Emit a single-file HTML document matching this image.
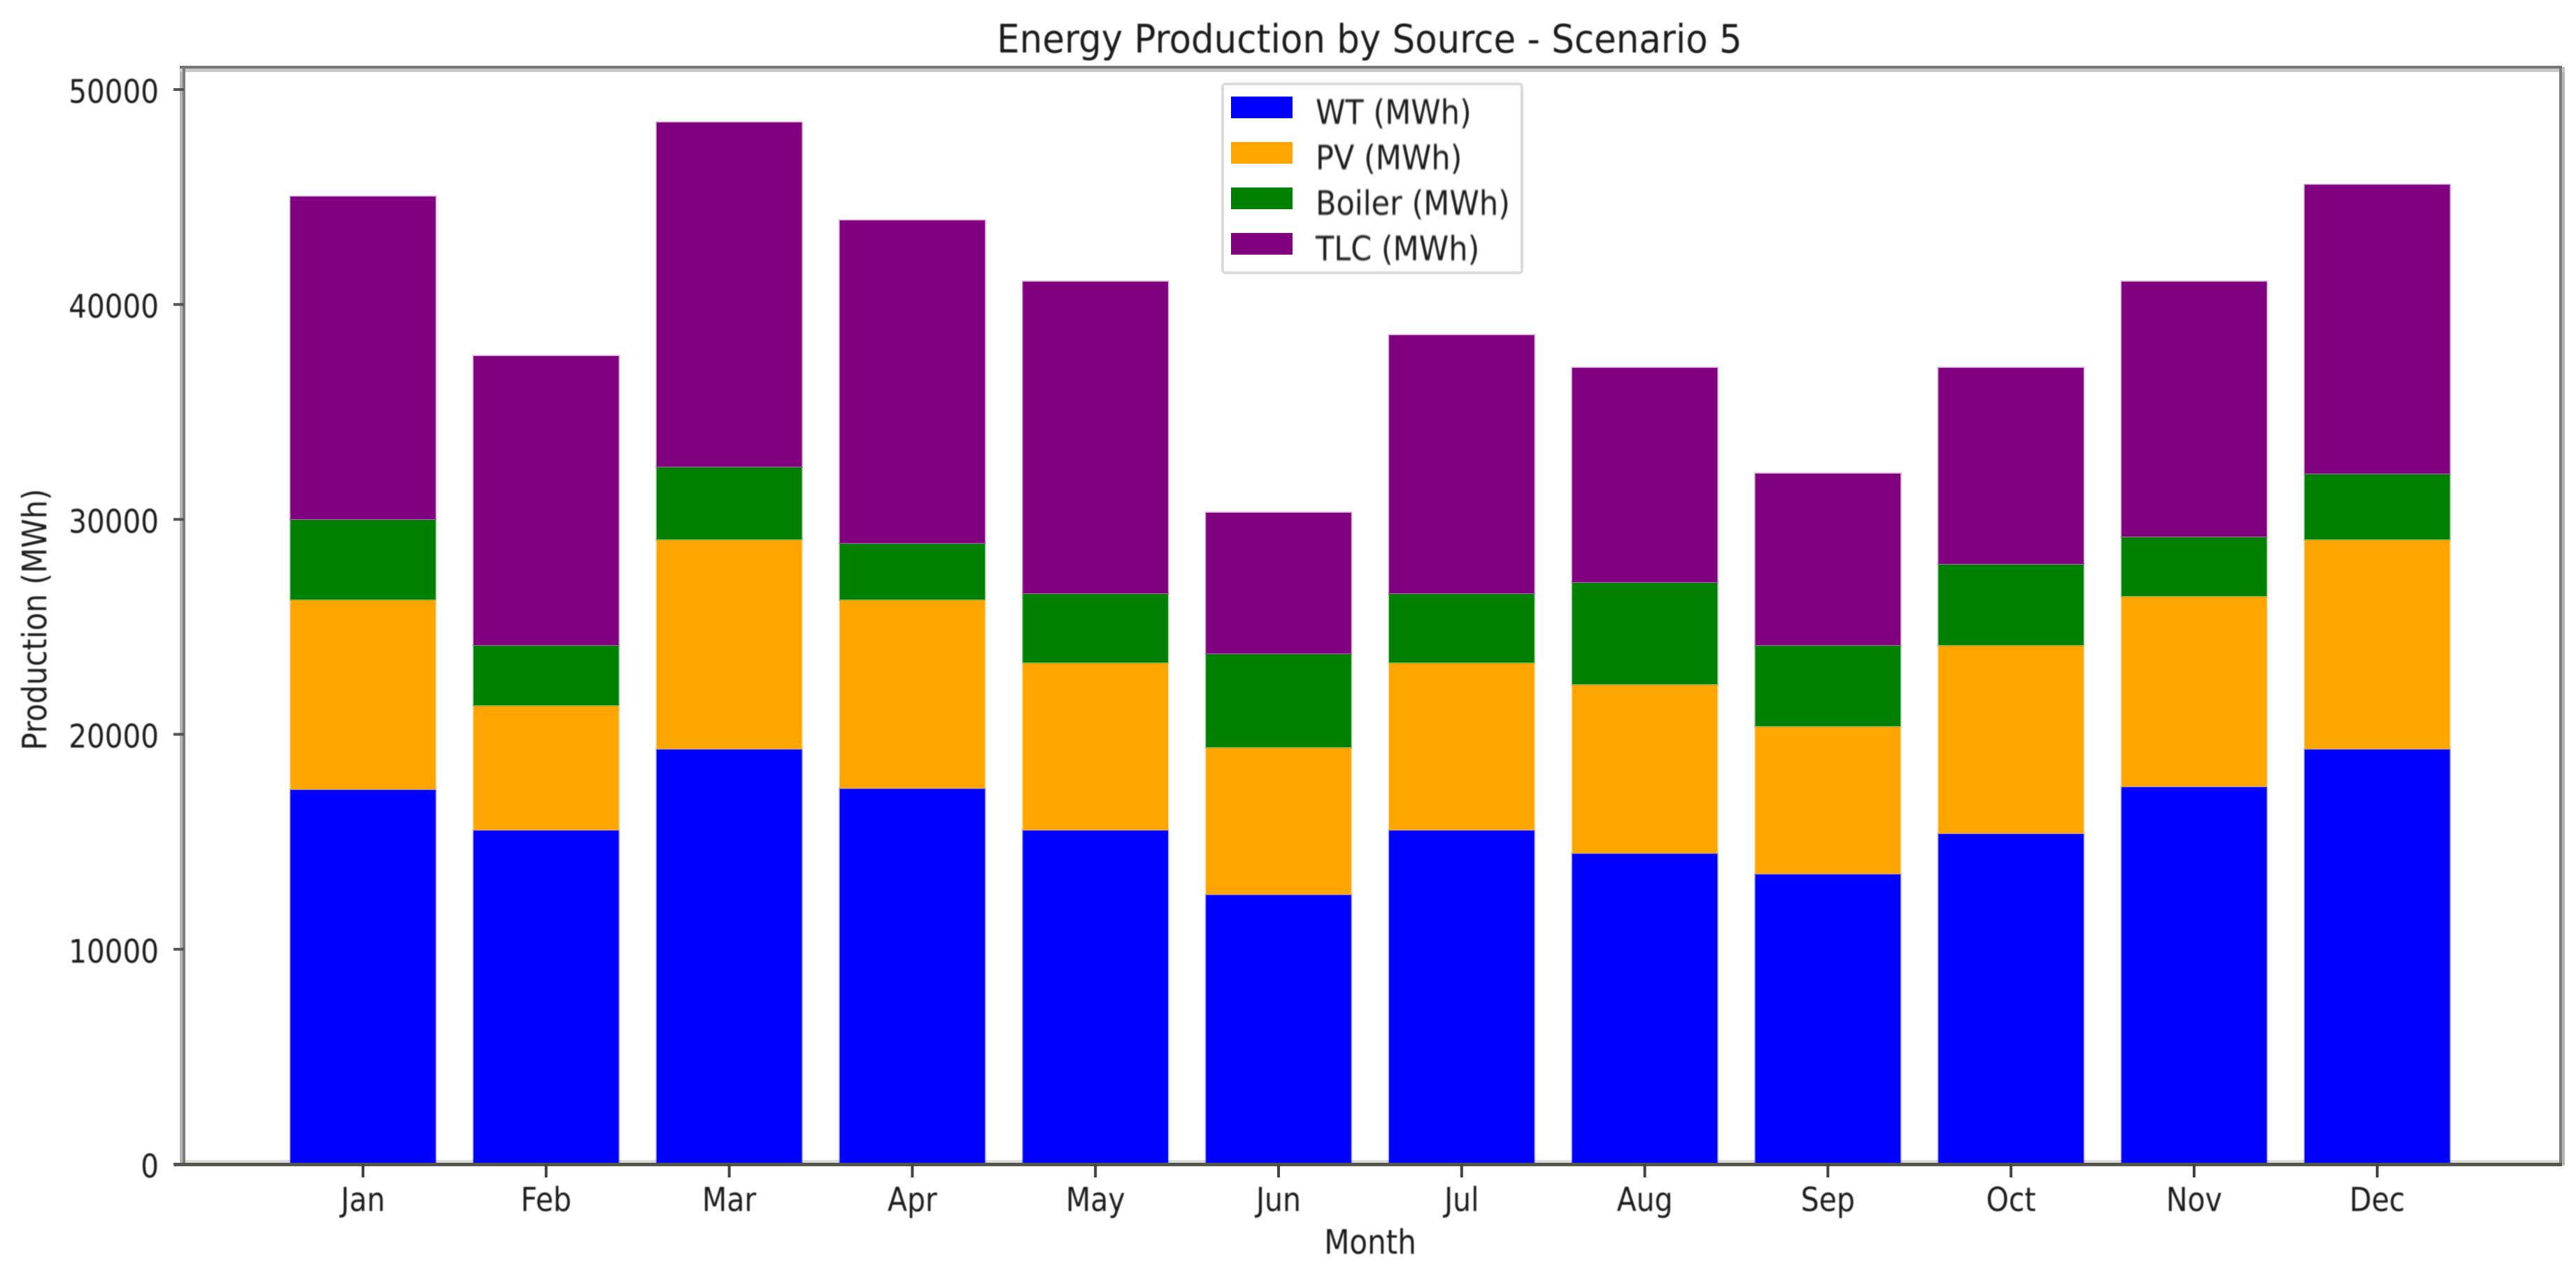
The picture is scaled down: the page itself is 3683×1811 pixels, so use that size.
<!DOCTYPE html>
<html lang="en">
<head>
<meta charset="utf-8">
<title>Energy Production by Source - Scenario 5</title>
<style>
html,body{margin:0;padding:0;background:#fff;}
svg{display:block;}
text{font-family:"DejaVu Sans","Liberation Sans",sans-serif;fill:#1c1c1c;}
</style>
</head>
<body>
<svg id="chart" xmlns="http://www.w3.org/2000/svg" width="3683" height="1811" viewBox="0 0 3683 1811">
  <defs><filter id="soft" x="-5%" y="-5%" width="110%" height="110%"><feGaussianBlur stdDeviation="0.9"/></filter></defs>
  <rect x="0" y="0" width="3683" height="1811" fill="#ffffff"/>
  <g id="spine-halos">
    <rect x="257" y="96" width="4" height="1568" fill="#b5b5b5"/>
    <rect x="3663" y="96" width="4" height="1570" fill="#b5b5b5"/>
    <rect x="257" y="98" width="3410" height="5" fill="#c8c8c8"/>
    <rect x="265" y="1658" width="3394" height="5" fill="#dddddd"/>
  </g>
  <g id="bars"></g>
  <g id="axes"></g>
  <g id="labels" filter="url(#soft)">
    <text transform="translate(1958 75) scale(1 1.1)" font-size="51.4" text-anchor="middle">Energy Production by Source - Scenario 5</text>
    <text transform="translate(1959 1792) scale(1 1.15)" font-size="42" text-anchor="middle">Month</text>
    <text transform="translate(66 885.5) rotate(-90) scale(1 1.15)" font-size="42" text-anchor="middle">Production (MWh)</text>
  </g>
  <g id="legend">
    <rect x="1748" y="120" width="428" height="270" rx="4" fill="#fff" stroke="#dcdcdc" stroke-width="4"/>
  </g>
</svg>
<script>
const categories = ["Jan","Feb","Mar","Apr","May","Jun","Jul","Aug","Sep","Oct","Nov","Dec"];
const wtValues = [17450,15560,19330,17500,15560,12560,15560,14480,13520,15400,17580,19330];
const pvValues = [8820,5790,9740,8770,7780,6840,7780,7850,6860,8750,8850,9740];
const boilerValues = [3740,2800,3380,2630,3220,4360,3220,4750,3770,3780,2770,3060];
const tlcValues = [15040,13480,16050,15040,14530,6580,12040,10000,8010,9150,11890,13470];
const yTicks = [0,10000,20000,30000,40000,50000];
const seriesNames = ["WT (MWh)","PV (MWh)","Boiler (MWh)","TLC (MWh)"];
const seriesKeys = ["wt","pv","boiler","tlc"];
const seriesColors = ["#0000ff","#ffa500","#008000","#800080"];
const seriesValues = [wtValues,pvValues,boilerValues,tlcValues];

const NS = "http://www.w3.org/2000/svg";
const plot = {left:263, right:3661, top:96, bottom:1664};
const firstCenter = 519, step = 261.8, barFraction = 0.8;
const pxPerUnit = 307.2 / 10000;
function xScale(i){ return firstCenter + i * step; }
function yScale(v){ return plot.bottom - v * pxPerUnit; }
function make(tag, attrs, parent){
  const el = document.createElementNS(NS, tag);
  for (const k in attrs) el.setAttribute(k, attrs[k]);
  parent.appendChild(el);
  return el;
}

const barsG = document.getElementById("bars");
const axesG = document.getElementById("axes");
const labelsG = document.getElementById("labels");
const legendG = document.getElementById("legend");

/* stacked bars */
categories.forEach(function(cat, i){
  let base = 0;
  seriesValues.forEach(function(vals, s){
    const v = vals[i];
    const yTop = yScale(base + v);
    const yBot = yScale(base);
    const w = step * barFraction;
    const r = make("rect", {x:xScale(i)-w/2+1, y:yTop+1, width:w-2, height:yBot-yTop-1, fill:seriesColors[s], stroke:seriesColors[s], "stroke-width":3, "stroke-opacity":0.35}, barsG);
    
    
    base += v;
  });
});

/* spines */
const spines = [
  {name:"spine-left", x1:plot.left, y1:plot.top-2, x2:plot.left, y2:plot.bottom+3, c:"#7d7d7d", w:4},
  {name:"spine-right", x1:plot.right, y1:plot.top-2, x2:plot.right, y2:plot.bottom+3, c:"#7d7d7d", w:4},
  {name:"spine-top", x1:plot.left-6, y1:plot.top, x2:plot.right+2, y2:plot.top, c:"#757575", w:4},
  {name:"spine-bottom", x1:plot.left-14, y1:plot.bottom+0.5, x2:plot.right+2, y2:plot.bottom+0.5, c:"#555548", w:5}
];
spines.forEach(function(sp){
  const l = make("line", {x1:sp.x1, y1:sp.y1, x2:sp.x2, y2:sp.y2, stroke:sp.c, "stroke-width":sp.w}, axesG);
  
  
});

/* y ticks */
yTicks.forEach(function(t){
  const y = yScale(t);
  const tick = make("line", {x1:plot.left-15, y1:y, x2:plot.left, y2:y, stroke:"#555", "stroke-width":4}, axesG);
  
  
  const label = make("text", {transform:"translate(227 " + (y + 19) + ") scale(1 1.15)", "font-size":40.5, "text-anchor":"end"}, labelsG);
  label.textContent = String(t);
  
  
});

/* x ticks */
categories.forEach(function(cat, i){
  const x = xScale(i);
  const tick = make("line", {x1:x, y1:plot.bottom, x2:x, y2:plot.bottom+19, stroke:"#444", "stroke-width":4}, axesG);
  
  
  const label = make("text", {transform:"translate(" + x + " 1731) scale(1 1.15)", "font-size":41, "text-anchor":"middle"}, labelsG);
  label.textContent = cat;
  
  
});

/* legend */
seriesNames.forEach(function(name, s){
  const rowY = 138 + s * 65;
  const swatch = make("rect", {x:1760, y:rowY, width:88, height:31, fill:seriesColors[s]}, legendG);
  
  
  const label = make("text", {transform:"translate(1881 " + (rowY + 39) + ") scale(1 1.12)", "font-size":43, filter:"url(#soft)"}, legendG);
  label.textContent = name;
  
  
});
</script>
</body>
</html>
